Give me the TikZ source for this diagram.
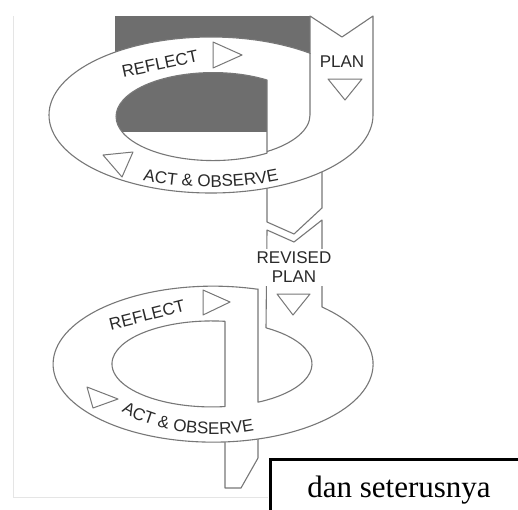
\documentclass[tikz,border=0pt]{standalone}
\usepackage{fontspec}
\setmainfont{Liberation Serif}
\setsansfont{Liberation Sans}
\usetikzlibrary{decorations.text}

\definecolor{linegray}{HTML}{777777}
\definecolor{labelgray}{HTML}{2A2A2A}
\definecolor{backgray}{HTML}{6E6E6E}
\newcommand\ringlabelfont{\sffamily\fontsize{17}{19}\selectfont}
\newcommand\boxlabelfont{\rmfamily\fontsize{31}{36}\selectfont}

\begin{document}
\ringlabelfont
\begin{tikzpicture}
		[x=1pt,y=-1pt,
		 tape/.style={draw=linegray,line width=1.1pt,fill=white,line join=round},
		 tapeline/.style={draw=linegray,line width=1.1pt},
		 tri/.style={draw=linegray,line width=1pt,line join=round},
		 ringlabel/.style={font=\ringlabelfont,text=labelgray,inner sep=1pt},
		 curvedlabel/.style={decorate,decoration={text along path,text color=labelgray,
		   text align=center,text={|\ringlabelfont|#1}}}]
	\useasboundingbox (0,0) rectangle (518,509);
	% faint frame of the scan
	\draw[black!10,line width=0.6pt] (13,16) -- (13,497) -- (268,497);

	% first cycle
	\coordinate (ring1) at (211,115);
	\fill[backgray] (115,16) rectangle (310,132);
	\path[tape] (267,160) -- (267,222) -- (294,234) -- (322,208) -- (322,160);
	\path[tape,even odd rule]
		(310,16) -- (342,37) -- (373,16) -- (373,115)
		arc[start angle=0,end angle=307.7,x radius=162,y radius=78] -- cycle
		(267,80) arc[start angle=303.8,end angle=56.2,x radius=97,y radius=44] -- cycle;
	\draw[tapeline] (310,53) -- (310,115)
		arc[start angle=0,end angle=56.2,x radius=97,y radius=44];
	\node[ringlabel,rotate=12] (reflect1) at (160,64) {REFLECT};
	\draw[tri] (213,42) -- (242,55) -- (213,68) -- cycle;
	\node[ringlabel] (plan1) at (342,62) {PLAN};
	\draw[tri] (328,79) -- (362,79) -- (345,100) -- cycle;
	\draw[tri] (103,155) -- (133,152) -- (122,177) -- cycle;
	\path[curvedlabel={ACT {\&} OBSERVE}] (ring1) ++(150:160 and 72)
		arc[start angle=150,end angle=30,x radius=160,y radius=72];

	% second cycle
	\coordinate (ring2) at (213,364);
	\path[tape] (225,420) -- (225,488) -- (241,488) -- (258,458) -- (258,420);
	\path[tape,even odd rule]
		(258,289) -- (258,402.2)
		arc[start angle=62.6,end angle=-57.3,x radius=100,y radius=43]
		-- (267,230) -- (294,242) -- (322,220) -- (322,307)
		arc[start angle=-47.1,end angle=286.3,x radius=160,y radius=78] -- cycle
		(225,321.3) arc[start angle=277.5,end angle=82.5,x radius=100,y radius=43] -- cycle;
	\node[ringlabel,fill=white,align=center,inner sep=2pt,minimum height=37pt]
		(revised) at (294,267.5) {REVISED\\PLAN};
	\draw[tri] (277,294) -- (310,294) -- (293,315) -- cycle;
	\node[ringlabel,rotate=14] (reflect2) at (147,315) {REFLECT};
	\draw[tri] (203,290) -- (230,302) -- (203,315) -- cycle;
	\draw[tri] (87,387) -- (118,399) -- (93,408) -- cycle;
	\path[curvedlabel={ACT {\&} OBSERVE}] (ring2) ++(170:125 and 70)
		arc[start angle=170,end angle=46,x radius=125,y radius=70];

	% what follows
	\node[draw=black,line width=3pt,font=\boxlabelfont,minimum width=258pt,minimum height=62pt]
		(next) at (399,490) {dan seterusnya};
\end{tikzpicture}
\end{document}
